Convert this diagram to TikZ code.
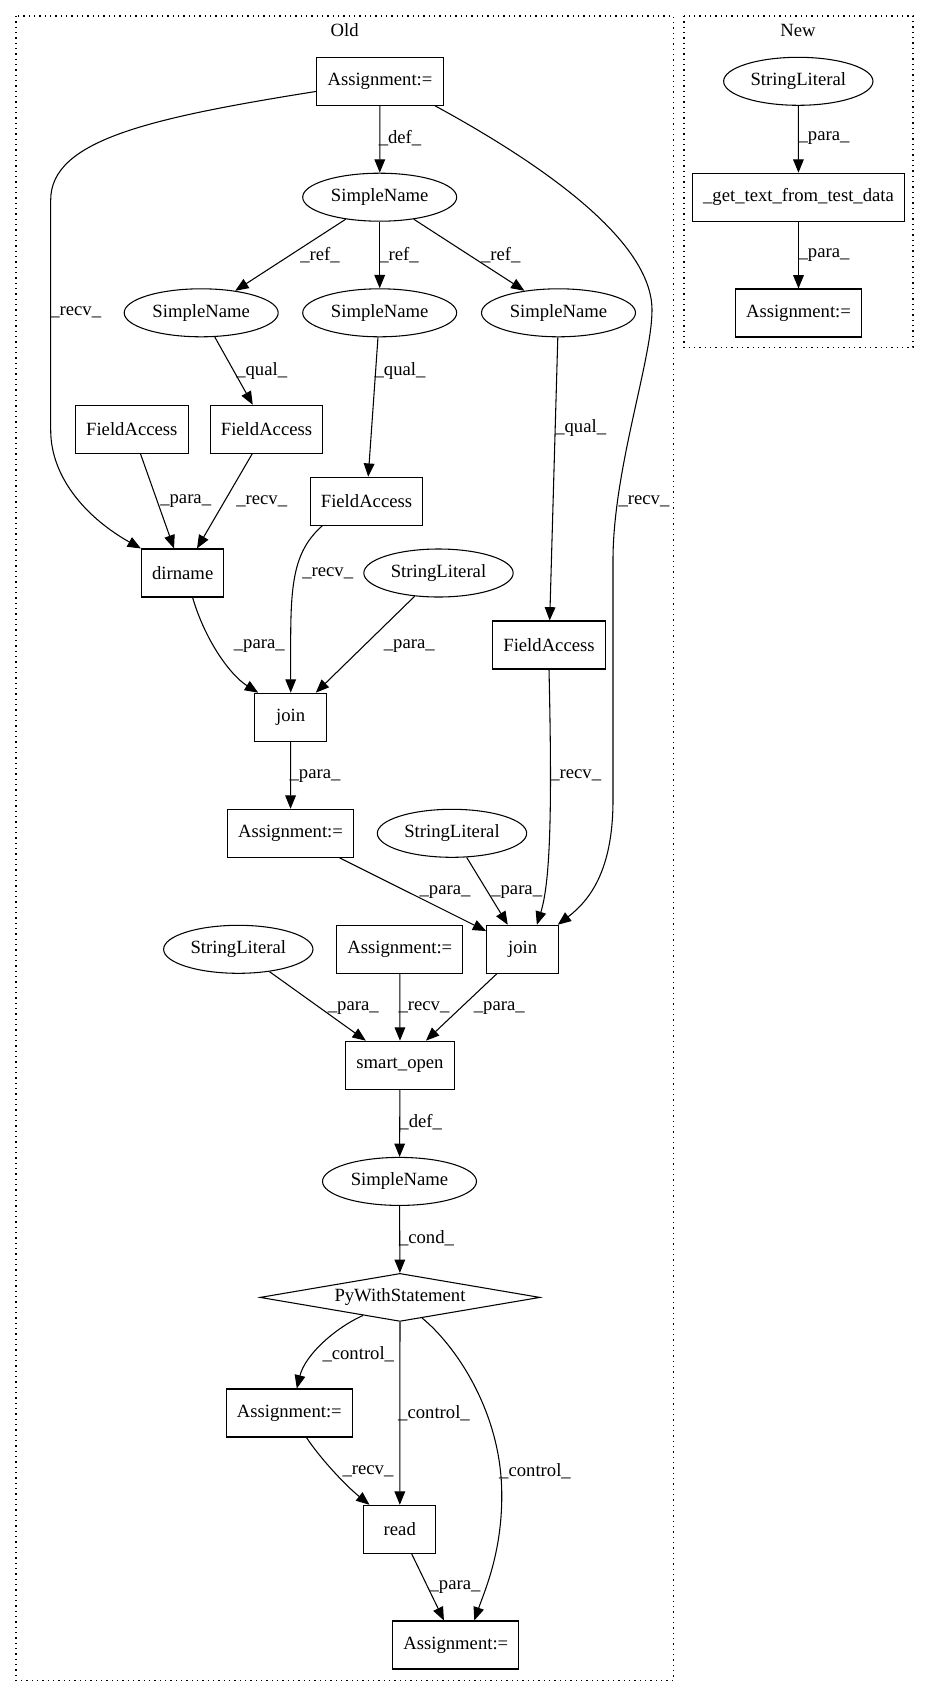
\documentclass[tikz,border=0pt]{standalone}
\usepackage{fontspec}
\setmainfont{Liberation Serif}
\usetikzlibrary{shapes.geometric,arrows.meta}

\begin{document}
\begin{tikzpicture}[x=0.75pt,y=-0.75pt,
  font=\fontsize{14pt}{16pt}\selectfont,
  box/.style={draw,line width=0.8pt,minimum width=54pt,minimum height=36pt,inner xsep=8pt,inner ysep=0pt},
  oval/.style={draw,ellipse,line width=0.8pt,minimum width=#1,minimum height=36pt,inner sep=0pt},
  oval/.default=115.5pt,
  gate/.style={draw,diamond,shape aspect=5.8,line width=0.8pt,minimum width=210pt,minimum height=36pt,inner sep=0pt},
  rel/.style={line width=0.8pt,-{Triangle[length=10pt,width=8pt]}},
  lab/.style={inner sep=0pt},
  clus/.style={line width=1pt,dash pattern=on 1pt off 3pt}]
\useasboundingbox (0,0) rectangle (929,1696);
% clusters
\draw[clus] (16,16) rectangle (673.3,1680.3);
\node (old) at (344.7,30) {Old};
\draw[clus] (684,16) rectangle (913,347.3);
\node (new) at (798,30) {New};
% old graph
\node[box] (asg0) at (380,81.3) {Assignment:=};
\node[oval] (sn0) at (379.7,197.2) {SimpleName};
\node[oval] (sn1) at (201.2,312.8) {SimpleName};
\node[oval] (sn2) at (379.7,312.8) {SimpleName};
\node[oval] (sn3) at (558.5,312.8) {SimpleName};
\node[box] (fa0) at (131.8,429.3) {FieldAccess};
\node[box] (fa1) at (266.5,429.3) {FieldAccess};
\node[box] (fa2) at (366.5,501.3) {FieldAccess};
\node[box] (dirname) at (182.7,573) {dirname};
\node[oval=112pt] (sl0) at (438.5,573) {StringLiteral};
\node[box] (fa3) at (549,645) {FieldAccess};
\node[box] (join0) at (290.7,717.2) {join};
\node[box] (asg1) at (290.5,833.3) {Assignment:=};
\node[oval=112pt] (sl1) at (452,833.3) {StringLiteral};
\node[box] (join1) at (522.7,949.3) {join};
\node[oval=112pt] (sl2) at (238.3,949.3) {StringLiteral};
\node[box] (asg2) at (399.8,949.3) {Assignment:=};
\node[box] (smartopen) at (400,1065.2) {smart\_open};
\node[oval] (sn4) at (399.5,1181.4) {SimpleName};
\node[gate] (with) at (400,1297.4) {PyWithStatement};
\node[box] (asg3) at (289.3,1413) {Assignment:=};
\node[box] (read) at (399.8,1529.3) {read};
\node[box] (asg4) at (455.8,1645) {Assignment:=};

\draw[rel] (asg0) -- (sn0);
\draw[rel] (sn0) -- (sn1);
\draw[rel] (sn0) -- (sn2);
\draw[rel] (sn0) -- (sn3);
\draw[rel] (asg0.189) .. controls (150,118) and (50.7,140) .. (50.7,200) -- (50.7,430)
  .. controls (50.7,480) and (90,520) .. (dirname.north west);
\draw[rel] (asg0.-24) .. controls (540,163) and (652,240) .. (652,310)
  .. controls (652,360) and (613,470) .. (613,560) -- (613,800)
  .. controls (613,870) and (590,900) .. (join1.35);
\draw[rel] (sn1) -- (fa1);
\draw[rel] (sn2) -- (fa2);
\draw[rel] (sn3) -- (fa3);
\draw[rel] (fa0) -- (dirname);
\draw[rel] (fa1) -- (dirname);
\draw[rel] (fa2.-151) .. controls (295,550) and (290.7,580) .. (290.7,640) -- (join0.north);
\draw[rel] (dirname.-68) .. controls (205,640) and (230,675) .. (join0.143);
\draw[rel] (sl0) -- (join0);
\draw[rel] (join0) -- (asg1);
\draw[rel] (fa3.south) .. controls (552,800) and (551,880) .. (join1.60);
\draw[rel] (asg1) -- (join1);
\draw[rel] (sl1) -- (join1);
\draw[rel] (sl2) -- (smartopen);
\draw[rel] (asg2) -- (smartopen);
\draw[rel] (join1) -- (smartopen);
\draw[rel] (smartopen) -- (sn4);
\draw[rel] (sn4) -- (with);
\draw[rel] (with.206) .. controls (335,1328) and (305,1355) .. (asg3.73);
\draw[rel] (with) -- (read);
\draw[rel] (with.-43) .. controls (455,1345) and (500,1410) .. (501.7,1490)
  .. controls (503,1550) and (485,1590) .. (asg4.53);
\draw[rel] (asg3.-55) .. controls (320,1458) and (345,1485) .. (read.141);
\draw[rel] (read) -- (asg4);

\node[lab] (l1) at (400,138.3) {\_def\_};
\node[lab] (l2) at (320,255) {\_ref\_};
\node[lab] (l3) at (399,255) {\_ref\_};
\node[lab] (l4) at (500.7,255) {\_ref\_};
\node[lab] (l5) at (75.7,312.3) {\_recv\_};
\node[lab] (l6) at (644,501) {\_recv\_};
\node[lab] (l7) at (261.7,370.7) {\_qual\_};
\node[lab] (l8) at (400,370.7) {\_qual\_};
\node[lab] (l9) at (580.7,428.3) {\_qual\_};
\node[lab] (l10) at (185.7,501) {\_para\_};
\node[lab] (l11) at (261.7,501) {\_recv\_};
\node[lab] (l12) at (327.7,573.3) {\_recv\_};
\node[lab] (l13) at (259.3,645.7) {\_para\_};
\node[lab] (l14) at (409.3,645.7) {\_para\_};
\node[lab] (l15) at (315,775.7) {\_para\_};
\node[lab] (l16) at (575.7,775) {\_recv\_};
\node[lab] (l17) at (445,891.7) {\_para\_};
\node[lab] (l18) at (516.7,891.7) {\_para\_};
\node[lab] (l19) at (353.3,1007.7) {\_para\_};
\node[lab] (l20) at (424,1007.7) {\_recv\_};
\node[lab] (l21) at (499.3,1007.7) {\_para\_};
\node[lab] (l22) at (420.7,1122) {\_def\_};
\node[lab] (l23) at (426.5,1238.3) {\_cond\_};
\node[lab] (l24) at (358.3,1354) {\_control\_};
\node[lab] (l25) at (434,1412.8) {\_control\_};
\node[lab] (l26) at (535,1470.8) {\_control\_};
\node[lab] (l27) at (368,1470.8) {\_recv\_};
\node[lab] (l28) at (455,1586.6) {\_para\_};

% new graph
\node[oval=112pt] (nsl) at (798.3,81.3) {StringLiteral};
\node[box] (nget) at (798.5,197.2) {\_get\_text\_from\_test\_data};
\node[box] (nasg) at (798.5,313) {Assignment:=};
\draw[rel] (nsl) -- (nget);
\draw[rel] (nget) -- (nasg);
\node[lab] (l29) at (824,138.3) {\_para\_};
\node[lab] (l30) at (824,255) {\_para\_};
\end{tikzpicture}
\end{document}
